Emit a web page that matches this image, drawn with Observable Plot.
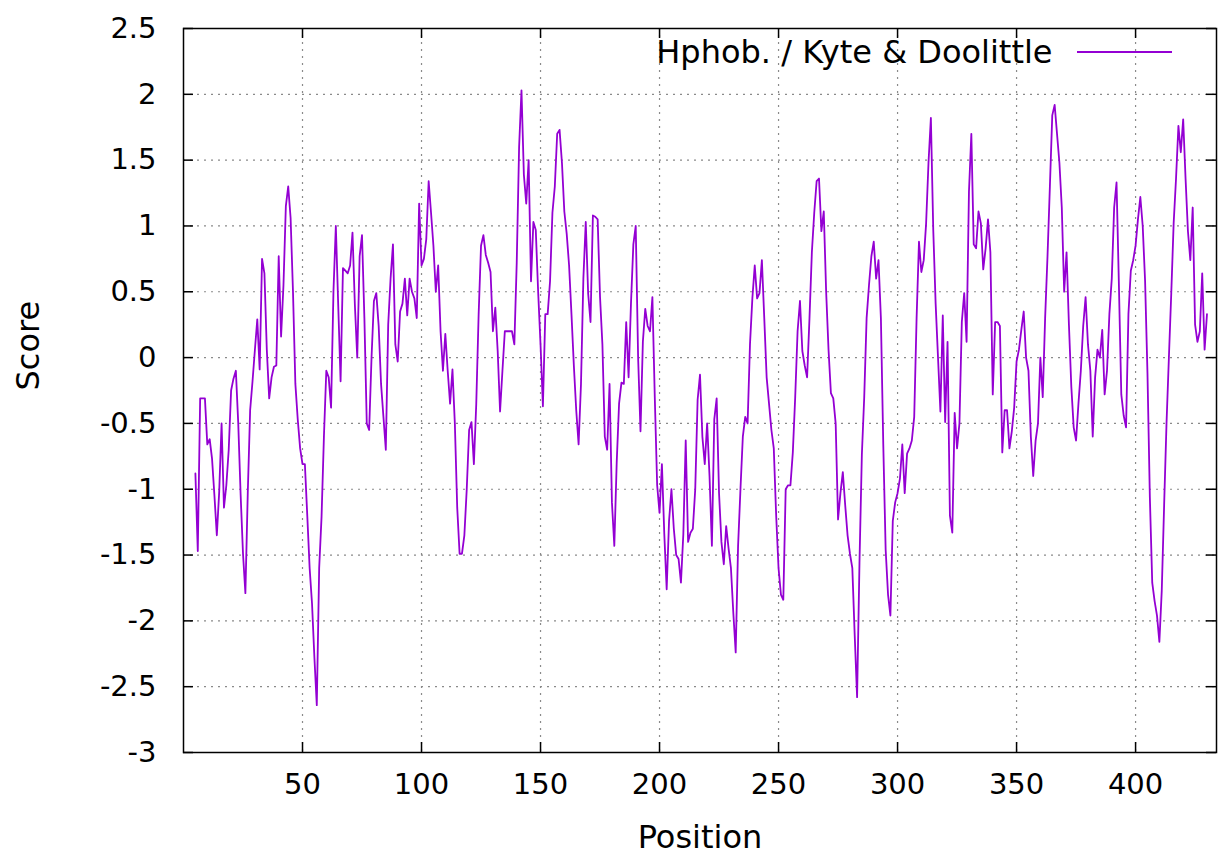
<!DOCTYPE html>
<html><head><meta charset="utf-8">
<script src="https://cdn.jsdelivr.net/npm/d3@7"></script>
<script src="https://cdn.jsdelivr.net/npm/@observablehq/plot@0.6"></script>
<style>
body{margin:0;background:#fff;}
#chart{position:relative;width:1223px;height:857px;font-family:"DejaVu Sans",sans-serif;}
</style></head><body><div id="chart"></div>
<script>
const seriesName = "Hphob. / Kyte & Doolittle";
const xLabel = "Position";
const yLabel = "Score";
const firstPosition = 5;
const scores = [
-0.88,-1.47,-0.31,-0.31,-0.31,-0.66,-0.62,-0.77,-1.05,-1.35,
-1.02,-0.5,-1.14,-0.97,-0.7,-0.25,-0.16,-0.1,-0.5,-1.04,
-1.49,-1.79,-1.03,-0.4,-0.18,0.06,0.29,-0.09,0.75,0.64,
0.06,-0.31,-0.15,-0.07,-0.06,0.77,0.16,0.55,1.15,1.3,
1.06,0.5,-0.2,-0.47,-0.69,-0.81,-0.81,-1.2,-1.6,-1.87,
-2.28,-2.64,-1.6,-1.21,-0.6,-0.1,-0.15,-0.38,0.5,1.0,
0.4,-0.18,0.68,0.66,0.64,0.7,0.95,0.4,0.0,0.77,
0.93,0.3,-0.5,-0.55,0.0,0.43,0.49,0.24,-0.2,-0.45,
-0.7,0.25,0.6,0.86,0.1,-0.03,0.35,0.41,0.6,0.32,
0.6,0.5,0.45,0.3,1.17,0.7,0.75,0.9,1.34,1.1,
0.85,0.5,0.7,0.2,-0.1,0.18,-0.1,-0.35,-0.09,-0.5,
-1.14,-1.49,-1.49,-1.35,-1.0,-0.55,-0.49,-0.81,-0.35,0.33,
0.85,0.93,0.78,0.72,0.65,0.2,0.38,0.05,-0.41,-0.1,
0.2,0.2,0.2,0.2,0.1,0.72,1.6,2.03,1.39,1.17,
1.5,0.58,1.03,0.97,0.5,0.1,-0.37,0.33,0.33,0.58,
1.1,1.3,1.7,1.73,1.48,1.11,0.94,0.7,0.33,-0.06,
-0.4,-0.66,-0.2,0.6,1.03,0.49,0.27,1.08,1.07,1.05,
0.46,0.1,-0.6,-0.7,-0.2,-1.1,-1.43,-0.8,-0.35,-0.19,
-0.2,0.27,-0.15,0.41,0.86,1.0,0.0,-0.56,0.12,0.37,
0.24,0.2,0.46,-0.3,-0.97,-1.18,-0.81,-1.34,-1.76,-1.24,
-1.0,-1.3,-1.5,-1.53,-1.71,-1.34,-0.63,-1.4,-1.33,-1.3,
-1.0,-0.32,-0.13,-0.6,-0.81,-0.5,-0.9,-1.43,-0.47,-0.31,
-1.03,-1.4,-1.57,-1.28,-1.45,-1.6,-1.94,-2.24,-1.43,-1.0,
-0.6,-0.45,-0.5,0.1,0.45,0.7,0.45,0.49,0.74,0.3,
-0.15,-0.35,-0.55,-0.69,-1.2,-1.6,-1.8,-1.84,-1.0,-0.97,
-0.97,-0.72,-0.3,0.2,0.43,0.05,-0.06,-0.15,0.3,0.8,
1.1,1.34,1.36,0.96,1.11,0.5,0.06,-0.27,-0.31,-0.5,
-1.23,-1.03,-0.87,-1.12,-1.35,-1.49,-1.6,-2.11,-2.58,-1.56,
-0.74,-0.3,0.3,0.55,0.77,0.88,0.6,0.74,0.3,-0.66,
-1.46,-1.8,-1.96,-1.24,-1.1,-1.03,-0.92,-0.66,-1.03,-0.73,
-0.69,-0.63,-0.45,0.3,0.88,0.65,0.74,1.02,1.48,1.82,
0.97,0.41,0.0,-0.41,0.32,-0.49,0.12,-1.2,-1.33,-0.42,
-0.69,-0.5,0.27,0.49,0.12,1.26,1.7,0.86,0.83,1.11,
1.02,0.67,0.83,1.05,0.8,-0.28,0.27,0.27,0.24,-0.72,
-0.4,-0.4,-0.69,-0.56,-0.38,-0.03,0.06,0.21,0.35,0.0,
-0.1,-0.6,-0.9,-0.63,-0.5,0.0,-0.3,0.3,0.77,1.3,
1.84,1.92,1.7,1.48,1.14,0.5,0.8,0.25,-0.22,-0.53,
-0.63,-0.35,-0.1,0.24,0.46,0.1,-0.1,-0.6,-0.15,0.06,
0.0,0.21,-0.28,-0.1,0.33,0.6,1.14,1.33,0.55,-0.28,
-0.44,-0.53,0.33,0.66,0.74,0.85,1.05,1.22,1.0,0.58,
-0.12,-1.06,-1.71,-1.85,-1.96,-2.16,-1.77,-1.12,-0.5,0.0,
0.49,1.02,1.36,1.76,1.56,1.81,1.36,0.96,0.74,1.14,
0.25,0.12,0.2,0.64,0.06,0.33
];
const xTicks = [50,100,150,200,250,300,350,400];
const yTicks = [-3,-2.5,-2,-1.5,-1,-0.5,0,0.5,1,1.5,2,2.5];
const xDomain = [0, 434];
const yDomain = [-3, 2.5];

const data = scores.map((s, i) => ({position: firstPosition + i, score: s}));

const W = 1223, H = 857, mL = 183, mR = 7, mT = 28, mB = 105;
const plotW = W - mL - mR, plotH = H - mT - mB;
const tickLen = 10;
const fs = 29;      // tick labels
const fsL = 32;     // axis titles and legend
const lineColor = "#9400D3";
const fmt = d => String(d);

const chart = Plot.plot({
  width: W, height: H,
  marginLeft: mL, marginRight: mR, marginTop: mT, marginBottom: mB,
  style: {fontFamily: "'DejaVu Sans', sans-serif", fontSize: fs + "px", background: "#fff", color: "#000", overflow: "visible"},
  x: {domain: xDomain},
  y: {domain: yDomain},
  marks: [
    Plot.gridX(xTicks, {stroke: "#8a8a8a", strokeOpacity: 1, strokeWidth: 1.2, strokeDasharray: "2,5"}),
    Plot.gridY(yTicks.filter(d => d > yDomain[0] && d < yDomain[1]), {stroke: "#8a8a8a", strokeOpacity: 1, strokeWidth: 1.2, strokeDasharray: "2,5"}),
    Plot.ruleX(xTicks, {x: d => d, insetTop: plotH - tickLen, stroke: "#000", strokeWidth: 1.5}),
    Plot.ruleX(xTicks, {x: d => d, insetBottom: plotH - tickLen, stroke: "#000", strokeWidth: 1.5}),
    Plot.ruleY(yTicks, {y: d => d, insetRight: plotW - tickLen, stroke: "#000", strokeWidth: 1.5}),
    Plot.ruleY(yTicks, {y: d => d, insetLeft: plotW - tickLen, stroke: "#000", strokeWidth: 1.5}),
    Plot.axisX({ticks: xTicks, tickSize: 0, tickPadding: 21, tickFormat: fmt, fontSize: fs, label: null}),
    Plot.axisY({ticks: yTicks, tickSize: 0, tickPadding: 27, tickFormat: fmt, fontSize: fs, label: null}),
    Plot.line(data, {x: "position", y: "score", stroke: lineColor, strokeWidth: 1.8}),
    Plot.frame({stroke: "#000", strokeWidth: 1.5}),
    Plot.text([xLabel], {frameAnchor: "bottom", dy: 85, lineAnchor: "middle", fontSize: fsL}),
    Plot.text([yLabel], {frameAnchor: "left", dx: -155, rotate: -90, lineAnchor: "middle", fontSize: fsL}),
    Plot.text([seriesName], {frameAnchor: "top-right", dx: -(W - mR - 1052), dy: 24, textAnchor: "end", lineAnchor: "middle", fontSize: fsL})
  ]
});

// legend sample line
d3.select(chart).append("line")
  .attr("x1", 1077).attr("x2", 1172).attr("y1", 52).attr("y2", 52)
  .attr("stroke", lineColor).attr("stroke-width", 1.8);

document.getElementById("chart").appendChild(chart);
</script>
</body></html>
